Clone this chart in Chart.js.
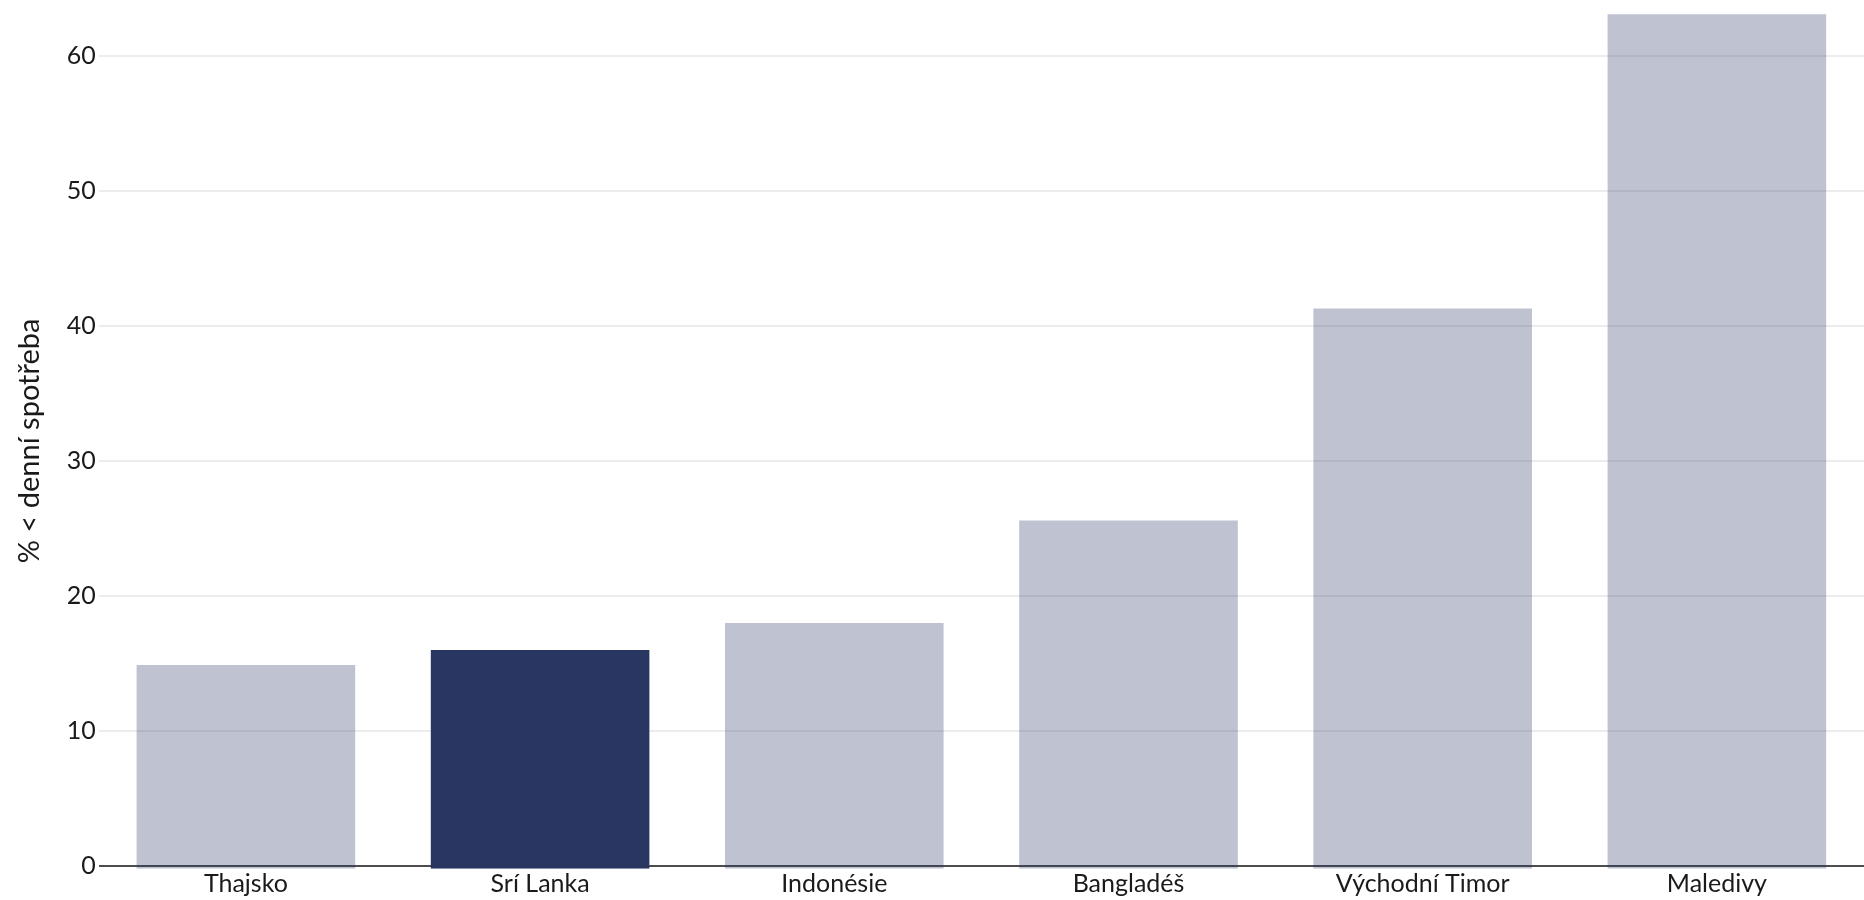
<!DOCTYPE html>
<html>
<head>
<meta charset="utf-8">
<script src="https://cdn.jsdelivr.net/npm/chart.js@4"></script>
<style>
  html, body { margin: 0; padding: 0; background: #fff; }
  #wrap { width: 1864px; height: 900px; }
</style>
</head>
<body>
<div id="wrap"><canvas id="chart"></canvas></div>
<script>
const countries = ['Thajsko', 'Srí Lanka', 'Indonésie', 'Bangladéš', 'Východní Timor', 'Maledivy']
const shareBelow = [14.9, 16.0, 18.0, 25.6, 41.3, 63.1]
const highlighted = 'Srí Lanka'
const yTicks = [0, 10, 20, 30, 40, 50, 60]
const yTitle = '% < denní spotřeba'

const dark = 'rgb(42,54,98)'
const light = 'rgba(42,54,98,0.3)'
const yMin = -0.2

Chart.defaults.font.family = 'Lato, "Noto Sans", sans-serif'
Chart.defaults.color = '#1a1a1a'

new Chart(document.getElementById('chart').getContext('2d'), {
  type: 'bar',
  data: {
    labels: countries,
    datasets: [{
      data: shareBelow,
      base: yMin, // bars start a touch below the zero line
      backgroundColor: countries.map(c => c === highlighted ? dark : light),
      borderWidth: 0,
      categoryPercentage: 1,
      barPercentage: 0.743
    }]
  },
  options: {
    responsive: true,
    maintainAspectRatio: false,
    animation: false,
    layout: { padding: { top: 0, right: 0, bottom: 0, left: 12 } },
    plugins: {
      legend: { display: false },
      tooltip: { enabled: false }
    },
    scales: {
      x: {
        grid: { display: false, drawTicks: false },
        border: { display: false },
        ticks: { font: { size: 25, lineHeight: 1.25 }, padding: 0, maxRotation: 0 }
      },
      y: {
        min: yMin,
        max: 63.2,
        border: { display: false },
        afterBuildTicks: axis => {
          axis.ticks = yTicks.map(v => ({ value: v }))
        },
        ticks: { font: { size: 25, lineHeight: 0.8 }, padding: 3 },
        grid: {
          drawTicks: false,
          color: ctx => ctx.tick && ctx.tick.value === 0 ? '#4d4d4d' : '#ececec',
          lineWidth: 2
        },
        title: {
          display: true,
          text: yTitle,
          font: { size: 29 },
          padding: { top: 0, bottom: 17 }
        }
      }
    }
  }
})
</script>
</body>
</html>
